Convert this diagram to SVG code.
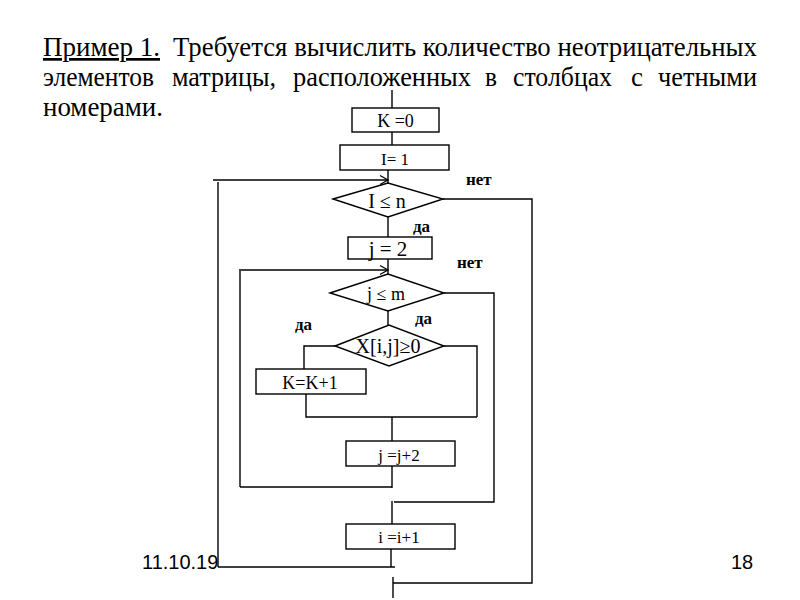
<svg xmlns="http://www.w3.org/2000/svg" width="800" height="600" viewBox="0 0 800 600">
<defs>
<style>
.t{font-family:"Liberation Serif","Times New Roman",serif;font-size:27px;fill:#000}
.b{fill:#fff;stroke:#000;stroke-width:1.4}
.l{fill:none;stroke:#000;stroke-width:1.4}
.bt{font-family:"Liberation Serif","Times New Roman",serif;fill:#000;text-anchor:middle}
.lab{font-family:"Liberation Serif","Times New Roman",serif;font-weight:bold;font-size:17px;fill:#000}
.f{font-family:"Liberation Sans",Arial,sans-serif;font-size:20px;fill:#000}
</style>
<marker id="chev" markerWidth="12" markerHeight="12" refX="9" refY="6" orient="auto" markerUnits="userSpaceOnUse">
<path d="M1,1.5 L9,6 L1,10.5" fill="none" stroke="#000" stroke-width="1.3"/>
</marker>
</defs>
<rect width="800" height="600" fill="#fff"/>

<g id="title">
<text class="t" x="43" y="56" textLength="117" lengthAdjust="spacingAndGlyphs" text-decoration="underline">Пример 1.</text>
<text class="t" x="173" y="56" textLength="584" lengthAdjust="spacingAndGlyphs">Требуется вычислить количество неотрицательных</text>
<text class="t" x="43" y="86" textLength="111" lengthAdjust="spacingAndGlyphs">элементов</text>
<text class="t" x="172" y="86" textLength="104" lengthAdjust="spacingAndGlyphs">матрицы,</text>
<text class="t" x="293" y="86" textLength="178" lengthAdjust="spacingAndGlyphs">расположенных</text>
<text class="t" x="485" y="86" textLength="12" lengthAdjust="spacingAndGlyphs">в</text>
<text class="t" x="513" y="86" textLength="99" lengthAdjust="spacingAndGlyphs">столбцах</text>
<text class="t" x="631" y="86" textLength="12" lengthAdjust="spacingAndGlyphs">с</text>
<text class="t" x="658" y="86" textLength="99" lengthAdjust="spacingAndGlyphs">четными</text>
<text class="t" x="43" y="116" textLength="120" lengthAdjust="spacingAndGlyphs">номерами.</text>
</g>

<g id="connectors">
<line class="l" x1="392" y1="90" x2="392" y2="108"/>
<line class="l" x1="392" y1="132" x2="392" y2="145"/>
<line class="l" x1="388" y1="170" x2="388" y2="183"/>
<line class="l" x1="213" y1="180" x2="388" y2="180" marker-end="url(#chev)"/>
<line class="l" x1="218" y1="182" x2="218" y2="567"/>
<line class="l" x1="218" y1="567" x2="395" y2="567"/>
<line class="l" x1="391" y1="549" x2="391" y2="567"/>
<polyline class="l" points="443,199 532,199 532,583 393,583"/>
<line class="l" x1="393" y1="577" x2="393" y2="598"/>
<line class="l" x1="388" y1="217" x2="388" y2="237"/>
<line class="l" x1="388" y1="259" x2="388" y2="274"/>
<line class="l" x1="239" y1="270" x2="388" y2="270" marker-end="url(#chev)"/>
<line class="l" x1="240" y1="271" x2="240" y2="487"/>
<line class="l" x1="240" y1="487" x2="392" y2="487"/>
<polyline class="l" points="444,293 494,293 494,502 394,502"/>
<line class="l" x1="388" y1="311" x2="388" y2="325"/>
<polyline class="l" points="335,346 304,346 304,369"/>
<polyline class="l" points="306,394 306,417 477,417"/>
<polyline class="l" points="444,346 477,346 477,417"/>
<line class="l" x1="392" y1="417" x2="392" y2="441"/>
<line class="l" x1="392" y1="466" x2="392" y2="488"/>
<line class="l" x1="392" y1="501" x2="392" y2="524"/>
</g>

<g id="k0">
<rect class="b" x="352" y="108" width="87" height="24"/>
<text class="bt" x="395.5" y="127" font-size="18">K =0</text>
</g>
<g id="i1">
<rect class="b" x="340" y="145" width="109" height="25"/>
<text class="bt" x="395" y="165" font-size="17" fill="#333">I= 1</text>
</g>
<g id="cond-i">
<polygon class="b" points="333,199 388,183 443,199 388,217"/>
<text class="bt" x="387" y="208" font-size="20">I ≤ n</text>
</g>
<g id="j2">
<rect class="b" x="348" y="237" width="84" height="22"/>
<text class="bt" x="388" y="256" font-size="21">j = 2</text>
</g>
<g id="cond-j">
<polygon class="b" points="330,293 388,274 444,293 388,311"/>
<text class="bt" x="386" y="300" font-size="18">j ≤ m</text>
</g>
<g id="cond-x">
<polygon class="b" points="335,346 389,325 444,346 389,366"/>
<text class="bt" x="388" y="353" font-size="20">X[i,j]≥0</text>
</g>
<g id="kk1">
<rect class="b" x="256" y="369" width="110" height="25"/>
<text class="bt" x="310" y="389" font-size="18">K=K+1</text>
</g>
<g id="jj2">
<rect class="b" x="346" y="441" width="109" height="25"/>
<text class="bt" x="399" y="461" font-size="17">j =j+2</text>
</g>
<g id="ii1">
<rect class="b" x="346" y="524" width="109" height="25"/>
<text class="bt" x="399" y="543" font-size="17">i =i+1</text>
</g>

<g id="labels">
<text class="lab" x="466" y="185">нет</text>
<text class="lab" x="413" y="232">да</text>
<text class="lab" x="457" y="268">нет</text>
<text class="lab" x="295" y="330">да</text>
<text class="lab" x="415" y="324">да</text>
</g>

<g id="footer">
<text class="f" x="142" y="569">11.10.19</text>
<text class="f" x="731" y="569">18</text>
</g>
</svg>
